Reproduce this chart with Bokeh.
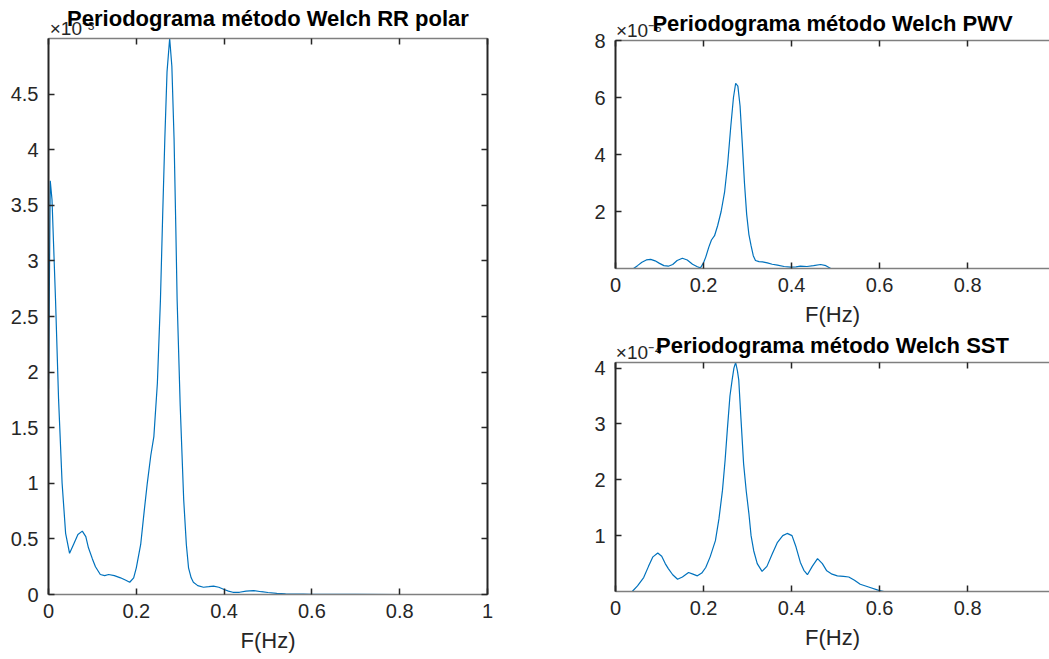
from bokeh.plotting import figure
from bokeh.models import Range1d, LinearAxis, FixedTicker
from bokeh.layouts import row, column
from bokeh.embed import file_html
from bokeh.resources import INLINE

# ---------------- data ----------------
rr_title = "Periodograma método Welch RR polar"
rr_exp = "×10⁻³"
rr_f = [0, 0.004, 0.008, 0.012, 0.016, 0.023, 0.031, 0.039, 0.048, 0.057, 0.067, 0.077, 0.085,
        0.091, 0.1, 0.107, 0.118, 0.128, 0.137, 0.15, 0.164, 0.175, 0.185, 0.194, 0.2, 0.21,
        0.218, 0.225, 0.233, 0.24, 0.248, 0.255, 0.26, 0.265, 0.27, 0.276, 0.281, 0.286, 0.29,
        0.293, 0.3, 0.308, 0.314, 0.319, 0.325, 0.33, 0.34, 0.353, 0.365, 0.376, 0.388, 0.4,
        0.41, 0.42, 0.435, 0.45, 0.467, 0.485, 0.5, 0.52, 0.54, 0.56, 0.58, 0.6, 0.7, 0.8, 0.9, 1.0]
rr_p = [1.85, 3.72, 3.55, 3.1, 2.65, 1.75, 1.0, 0.55, 0.37, 0.45, 0.54, 0.57, 0.52,
        0.42, 0.32, 0.25, 0.18, 0.17, 0.18, 0.17, 0.15, 0.13, 0.11, 0.15, 0.24, 0.45,
        0.75, 1.0, 1.25, 1.42, 1.9, 2.65, 3.4, 4.1, 4.7, 5.0, 4.75, 4.1, 3.3,
        2.65, 1.7, 0.85, 0.45, 0.24, 0.15, 0.11, 0.08, 0.065, 0.07, 0.075, 0.065, 0.045,
        0.03, 0.02, 0.02, 0.03, 0.035, 0.025, 0.018, 0.01, 0.006, 0.004, 0.004, 0.002, 0.001, 0.0, 0.0, 0.0]

pwv_title = "Periodograma método Welch PWV"
pwv_exp = "×10⁻⁵"
pwv_f = [0.041, 0.05, 0.06, 0.07, 0.08, 0.09, 0.1, 0.11, 0.12, 0.13, 0.14, 0.152, 0.163, 0.175,
         0.186, 0.193, 0.2, 0.205, 0.212, 0.218, 0.225, 0.232, 0.24, 0.248, 0.255, 0.262, 0.268,
         0.273, 0.278, 0.283, 0.288, 0.293, 0.298, 0.303, 0.308, 0.313, 0.318, 0.326, 0.334,
         0.345, 0.356, 0.368, 0.383, 0.398, 0.41, 0.42, 0.435, 0.45, 0.466, 0.478, 0.489]
pwv_p = [0, 0.1, 0.22, 0.3, 0.32, 0.27, 0.18, 0.1, 0.08, 0.14, 0.28, 0.36, 0.3, 0.15,
         0.06, 0.02, 0.2, 0.4, 0.75, 1.0, 1.15, 1.5, 2.0, 2.7, 3.7, 5.0, 6.0,
         6.5, 6.4, 5.7, 4.4, 3.0, 1.9, 1.2, 0.8, 0.45, 0.28, 0.24, 0.23,
         0.2, 0.15, 0.12, 0.07, 0.05, 0.06, 0.08, 0.07, 0.1, 0.14, 0.1, 0.0]

sst_title = "Periodograma método Welch SST"
sst_exp = "×10⁻⁴"
sst_f = [0.038, 0.05, 0.064, 0.075, 0.085, 0.096, 0.105, 0.113, 0.12, 0.13, 0.141, 0.152, 0.166,
         0.176, 0.186, 0.196, 0.205, 0.215, 0.227, 0.235, 0.243, 0.249, 0.254, 0.26, 0.265,
         0.269, 0.273, 0.277, 0.28, 0.285, 0.291, 0.297, 0.303, 0.308, 0.314, 0.322, 0.333,
         0.344, 0.356, 0.368, 0.38, 0.39, 0.401, 0.41, 0.42, 0.428, 0.436, 0.447, 0.459, 0.47,
         0.48, 0.492, 0.504, 0.518, 0.53, 0.543, 0.556, 0.575, 0.598, 0.61, float("nan"), 0.637, 0.67]
sst_p = [0, 0.1, 0.25, 0.45, 0.62, 0.69, 0.63, 0.5, 0.41, 0.3, 0.22, 0.26, 0.34,
         0.31, 0.28, 0.33, 0.43, 0.62, 0.91, 1.3, 1.81, 2.35, 2.89, 3.5, 3.79,
         4.0, 4.1, 3.95, 3.79, 3.1, 2.29, 1.8, 1.4, 1.0, 0.73, 0.5, 0.36,
         0.45, 0.67, 0.88, 1.0, 1.04, 1.0, 0.8, 0.52, 0.38, 0.3, 0.45, 0.59, 0.5,
         0.37, 0.31, 0.28, 0.27, 0.26, 0.2, 0.13, 0.08, 0.02, 0.0, float("nan"), 0.0, 0.0]

rr_xticks = [0, 0.2, 0.4, 0.6, 0.8, 1.0]
rr_xlabels = ["0", "0.2", "0.4", "0.6", "0.8", "1"]
rr_yticks = [0, 0.5, 1, 1.5, 2, 2.5, 3, 3.5, 4, 4.5]
rr_ylabels = ["0", "0.5", "1", "1.5", "2", "2.5", "3", "3.5", "4", "4.5"]
sm_xticks = [0, 0.2, 0.4, 0.6, 0.8]
sm_xlabels = ["0", "0.2", "0.4", "0.6", "0.8"]
pwv_yticks = [2, 4, 6, 8]
pwv_ylabels = ["2", "4", "6", "8"]
sst_yticks = [1, 2, 3, 4]
sst_ylabels = ["1", "2", "3", "4"]

FONT = "Liberation Sans"
AX = "#262626"
BLUE = "#0072BD"


def make_axis(ticks, labels, show_labels, line_color, line_width, label_text=None):
    ax = LinearAxis(ticker=FixedTicker(ticks=ticks))
    ax.major_tick_in = 6
    ax.major_tick_out = 0
    ax.minor_tick_line_color = None
    ax.major_tick_line_color = AX
    ax.major_tick_line_width = 1.5
    ax.axis_line_color = line_color
    ax.axis_line_width = line_width
    ax.major_label_text_font = FONT
    if show_labels:
        ax.major_label_overrides = {t: l for t, l in zip(ticks, labels)}
        ax.major_label_text_font_size = "20px"
        ax.major_label_text_color = AX
    else:
        ax.major_label_text_font_size = "1px"
        ax.major_label_text_color = None
        ax.major_label_standoff = 0
    if label_text:
        ax.axis_label = label_text
        ax.axis_label_text_font = FONT
        ax.axis_label_text_font_size = "22px"
        ax.axis_label_text_font_style = "normal"
        ax.axis_label_text_color = AX
    return ax


def make_fig(f, pw, title, exp, xr, yr, xticks, xlabels, yticks, ylabels,
             fw, fh, bl, br, bt, bb, right_axis, title_standoff):
    p = figure(frame_width=fw, frame_height=fh, output_backend="svg", toolbar_location=None,
               x_range=Range1d(*xr), y_range=Range1d(*yr),
               x_axis_location=None, y_axis_location=None,
               min_border_left=bl, min_border_right=br, min_border_top=bt, min_border_bottom=bb)
    p.grid.visible = False
    p.outline_line_color = None
    p.background_fill_color = "white"
    p.border_fill_color = "white"

    bx = make_axis(xticks, xlabels, True, "#7f7f7f", 1.5, "F(Hz)")
    bx.major_label_standoff = 9
    bx.axis_label_standoff = 7
    p.add_layout(bx, "below")

    tx = make_axis(xticks, xlabels, False, "#7f7f7f", 1.5)
    p.add_layout(tx, "above")

    # exponent marker (×10^n) at the top-left corner, with the panel title as its axis label
    px_per_unit = fw / (xr[1] - xr[0])
    exp_x = xr[0] + 23.5 / px_per_unit
    ex = LinearAxis(ticker=FixedTicker(ticks=[exp_x]))
    ex.major_label_overrides = {exp_x: exp}
    ex.major_tick_line_color = None
    ex.minor_tick_line_color = None
    ex.axis_line_color = None
    ex.major_label_standoff = -6
    ex.major_label_text_font = FONT
    ex.major_label_text_font_size = "19px"
    ex.major_label_text_color = AX
    ex.axis_label = title
    ex.axis_label_text_font = FONT
    ex.axis_label_text_font_size = "22px"
    ex.axis_label_text_font_style = "bold"
    ex.axis_label_text_color = "black"
    ex.axis_label_standoff = title_standoff
    p.add_layout(ex, "above")

    ly = make_axis(yticks, ylabels, True, AX, 2)
    ly.major_label_standoff = 10
    p.add_layout(ly, "left")
    if right_axis:
        ry = make_axis(yticks, ylabels, False, AX, 2)
        p.add_layout(ry, "right")

    p.line(f, pw, line_color=BLUE, line_width=1.2)
    return p


p_rr = make_fig(rr_f, rr_p, rr_title, rr_exp, (0, 1.0), (0, 5.0), rr_xticks, rr_xlabels,
                rr_yticks, rr_ylabels, 439, 556, 48, 40, 38, 50, True, -16)
p_pwv = make_fig(pwv_f, pwv_p, pwv_title, pwv_exp, (0, 0.986), (0, 8.0), sm_xticks, sm_xlabels,
                 pwv_yticks, pwv_ylabels, 434, 228, 88, 0, 40, 50, False, -19)
p_sst = make_fig(sst_f, sst_p, sst_title, sst_exp, (0, 0.986), (0, 4.1), sm_xticks, sm_xlabels,
                 sst_yticks, sst_ylabels, 434, 229, 88, 0, 26, 50, False, -19)

layout = row(p_rr, column(p_pwv, p_sst, spacing=0), spacing=0)
open("out.html", "w").write(file_html(layout, INLINE))
